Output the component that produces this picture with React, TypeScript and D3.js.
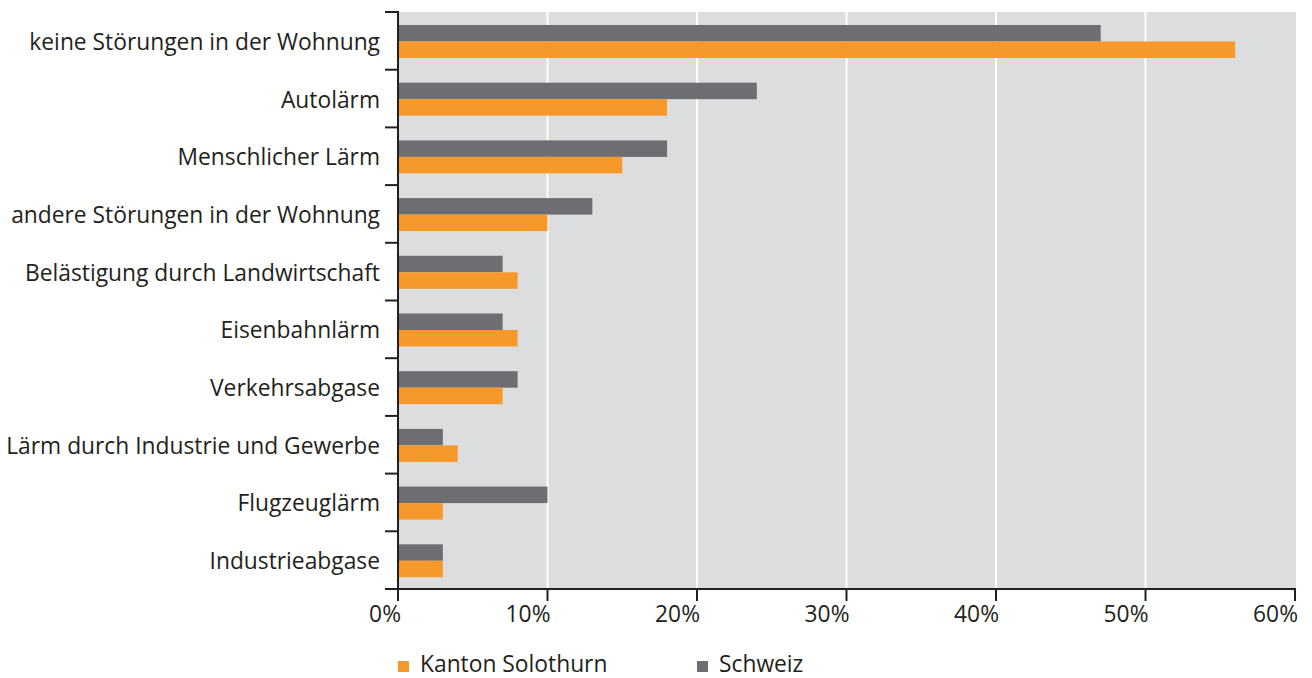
import React from "react";
import * as d3 from "d3";

const categories = [
  "keine Störungen in der Wohnung",
  "Autolärm",
  "Menschlicher Lärm",
  "andere Störungen in der Wohnung",
  "Belästigung durch Landwirtschaft",
  "Eisenbahnlärm",
  "Verkehrsabgase",
  "Lärm durch Industrie und Gewerbe",
  "Flugzeuglärm",
  "Industrieabgase",
];
const schweiz = [47, 24, 18, 13, 7, 7, 8, 3, 10, 3];
const solothurn = [56, 18, 15, 10, 8, 8, 7, 4, 3, 3];
const xTicks = [0, 10, 20, 30, 40, 50, 60];
const seriesNames = ["Kanton Solothurn", "Schweiz"];

const W = 1312, H = 678;
const L = 398, R = 1295, T = 12, B = 589;
const FONT = "'Open Sans', sans-serif";
const FS = 22.8;
const TEXT = "#231f20";
const ORANGE = "#f7992a";
const GRAY = "#6d6e71";

export default function App() {
  const x = d3.scaleLinear().domain([0, 60]).range([L, R]);
  const y = d3.scaleBand<string>().domain(categories).range([T, B]).paddingInner(0).paddingOuter(0);
  const bw = y.bandwidth();
  const inner = d3.scaleBand<string>().domain(["s", "o"]).range([0.225 * bw, 0.797 * bw]).padding(0);
  const boundaries = categories.map((c) => y(c)!).concat([B]);
  return (
    <svg width={W} height={H} style={{ position: "absolute", left: 0, top: 0 }}>
      <rect x={L} y={T} width={R - L + 1} height={B - T} fill="#dcdddf" />
      {xTicks.slice(1, -1).map((t) => (
        <line key={t} x1={x(t)} x2={x(t)} y1={T} y2={B} stroke="#fff" strokeWidth={2} />
      ))}
      {categories.map((c, i) => (
        <g key={c}>
          <rect x={x(0)} y={y(c)! + inner("s")!} width={x(schweiz[i]) - x(0)} height={inner.bandwidth()} fill={GRAY} />
          <rect x={x(0)} y={y(c)! + inner("o")!} width={x(solothurn[i]) - x(0)} height={inner.bandwidth()} fill={ORANGE} />
          <text x={380} y={y(c)! + bw / 2 + 9} textAnchor="end" fontFamily={FONT} fontSize={FS} fill={TEXT}>{c}</text>
        </g>
      ))}
      {boundaries.map((b, i) => (
        <line key={i} x1={385} x2={L} y1={b} y2={b} stroke={TEXT} strokeWidth={2} />
      ))}
      <line x1={L} x2={L} y1={T - 1} y2={B} stroke={TEXT} strokeWidth={2} />
      <line x1={385} x2={R + 1} y1={B} y2={B} stroke={TEXT} strokeWidth={2} />
      {xTicks.map((t) => (
        <g key={t}>
          <line x1={x(t)} x2={x(t)} y1={B} y2={B + 12} stroke={TEXT} strokeWidth={2} />
          <text x={x(t) + 3} y={622} textAnchor="end" fontFamily={FONT} fontSize={FS} fill={TEXT}>{t}%</text>
        </g>
      ))}
      <rect x={398} y={661} width={11} height={11} fill={ORANGE} />
      <text x={420} y={672} fontFamily={FONT} fontSize={FS} fill={TEXT}>{seriesNames[0]}</text>
      <rect x={697} y={661} width={11} height={11} fill={GRAY} />
      <text x={719} y={672} fontFamily={FONT} fontSize={FS} fill={TEXT}>{seriesNames[1]}</text>
    </svg>
  );
}
